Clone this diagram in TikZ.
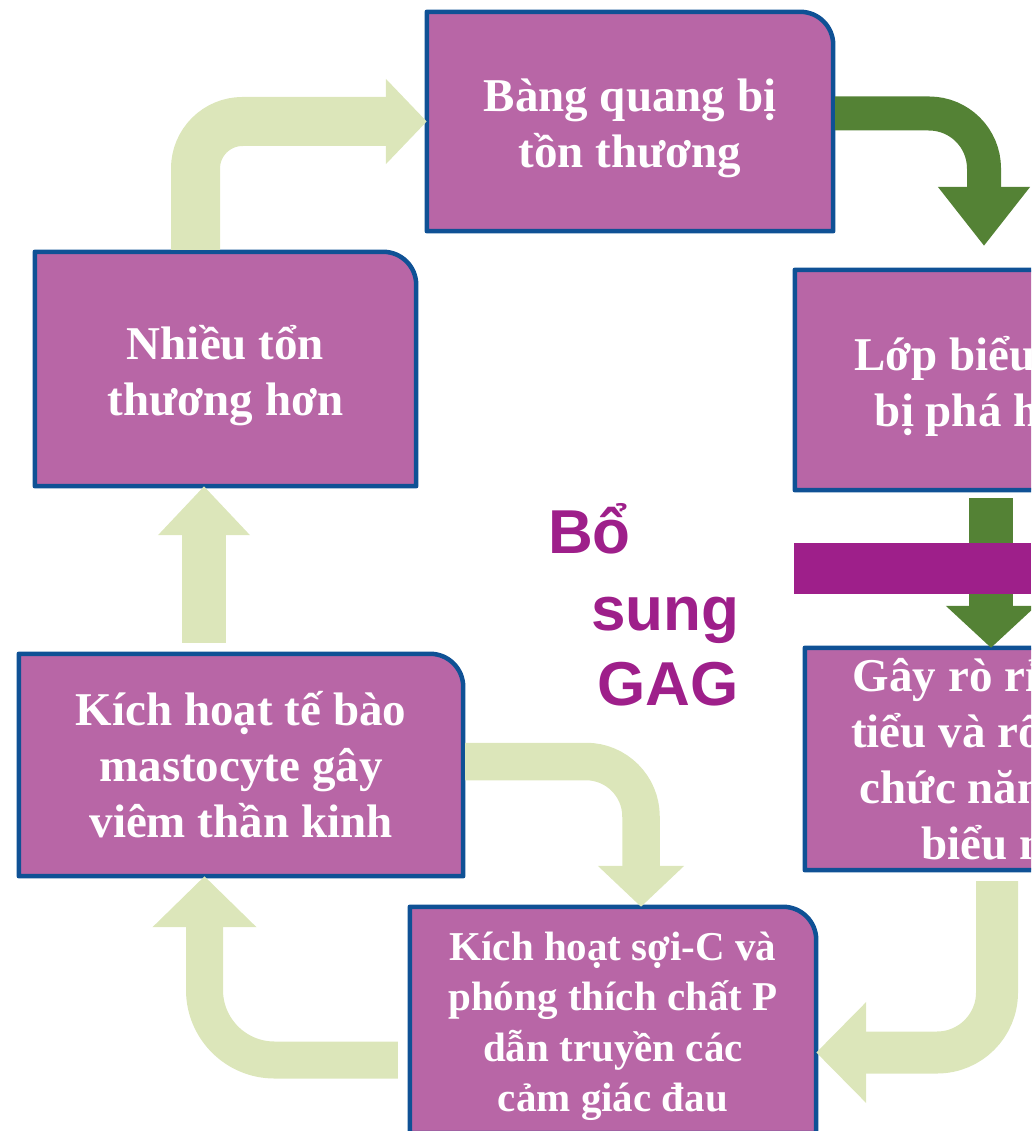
\documentclass[tikz,border=0pt]{standalone}
\usepackage{fontspec}
\setmainfont{Liberation Serif}
\newfontfamily\gagfont{Liberation Sans}
\usetikzlibrary{arrows.meta,backgrounds}

\definecolor{boxfill}{HTML}{B866A6}
\definecolor{boxline}{HTML}{0F5195}
\definecolor{paleleaf}{HTML}{DCE6BA}
\definecolor{darkleaf}{HTML}{548235}
\definecolor{gagpurple}{HTML}{9E1F8A}

\newcommand{\cornerr}{33pt}
\newcommand{\topline}{\rule{0pt}{1em}}
\newcommand{\cornerbox}[1]{%
  \path[boxshape] (#1.south west) -- (#1.north west)
    -- ([xshift=-\cornerr]#1.north east) arc[start angle=90,end angle=0,radius=\cornerr]
    -- (#1.south east) -- cycle;}

\tikzset{
  stage/.style={inner sep=0pt, align=center, text=white,
    font=\fontsize{47}{56}\selectfont\bfseries},
  boxshape/.style={fill=boxfill, draw=boxline, line width=4.5pt, line join=round},
  paleflow/.style={draw=paleleaf},
  darkflow/.style={draw=darkleaf},
  gagtext/.style={text=gagpurple, inner sep=0pt,
    font=\gagfont\fontsize{62}{75}\selectfont\bfseries}
}

\begin{document}
\begin{tikzpicture}[x=1pt,y=-1pt]
\useasboundingbox (0,0) rectangle (1031,1131);
\clip (0,0) rectangle (1031,1131);

\node[stage, minimum width=406pt, minimum height=219pt] (b1) at (630,121.5) {\topline Bàng quang bị\\tồn thương};
\node[stage, minimum width=381pt, minimum height=234pt] (b2) at (225.5,369) {\topline Nhiều tổn\\thương hơn};
\node[stage, minimum width=374pt, minimum height=220pt] (b3) at (982,380) {\topline Lớp biểu mô\\bị phá hủy};
\node[stage, minimum width=394pt, minimum height=222pt] (b4) at (1002,759) {Gây rò rỉ nước\\tiểu và rối loạn\\chức năng lớp\\biểu mô};
\node[stage, minimum width=444pt, minimum height=222pt] (b5) at (241,765) {Kích hoạt tế bào\\mastocyte gây\\viêm thần kinh};
\node[stage, minimum width=406pt, minimum height=226pt,
  font=\fontsize{41}{50.5}\selectfont\bfseries] (b6) at (613,1020) {\topline Kích hoạt sợi-C và\\phóng thích chất P\\dẫn truyền các\\cảm giác đau};

\begin{scope}[on background layer]
  \clip (0,0) rectangle (1031,1131);
  \foreach \b in {b1,b2,b3,b4,b5,b6} {\cornerbox{\b}}
\end{scope}

\coordinate (tipB) at (984,246);

\draw[paleflow, line width=49pt, rounded corners=47pt, -{Triangle[length=41pt,width=83pt]}]
  ([xshift=-30pt,yshift=2pt]b2.north) |- (b1.west);
\draw[darkflow, line width=34pt, rounded corners=55pt, -{Triangle[length=59pt,width=88pt]}]
  ([xshift=2pt,yshift=8pt]b1.east) -| (tipB);
\draw[darkflow, line width=44pt, -{Triangle[length=42pt,width=88pt]}]
  ([xshift=9pt,yshift=-8pt]b3.south) -- ([xshift=9pt]b3.south |- b4.north);
\fill[gagpurple] (794,543) rectangle (1031,594);
\draw[paleflow, line width=42pt, rounded corners=60pt, -{Triangle[length=50pt,width=98pt]}]
  ([xshift=-5pt,yshift=-11pt]b4.south) |- ([yshift=-32.5pt]b6.east);
\draw[paleflow, line width=37pt, rounded corners=70pt, -{Triangle[length=51pt,width=101pt]}]
  ([xshift=-12pt,yshift=-40pt]b6.west) -| ([xshift=-36.5pt]b5.south);
\draw[paleflow, line width=37.5pt, rounded corners=55pt, -{Triangle[length=41pt,width=84pt]}]
  ([xshift=2pt,yshift=3.5pt]b5.east) -| ([xshift=28pt]b6.north);
\draw[paleflow, line width=44pt, -{Triangle[length=49pt,width=89pt]}]
  ([xshift=-37pt,yshift=11pt]b5.north) -- ([xshift=-37pt]b5.north |- b2.south);

\node[gagtext, anchor=base west] (bo) at (548,553) {Bổ};
\node[gagtext, anchor=base west] (sung) at (591,630) {sung};
\node[gagtext, anchor=base west] (gag) at (597,705) {GAG};
\end{tikzpicture}
\end{document}
